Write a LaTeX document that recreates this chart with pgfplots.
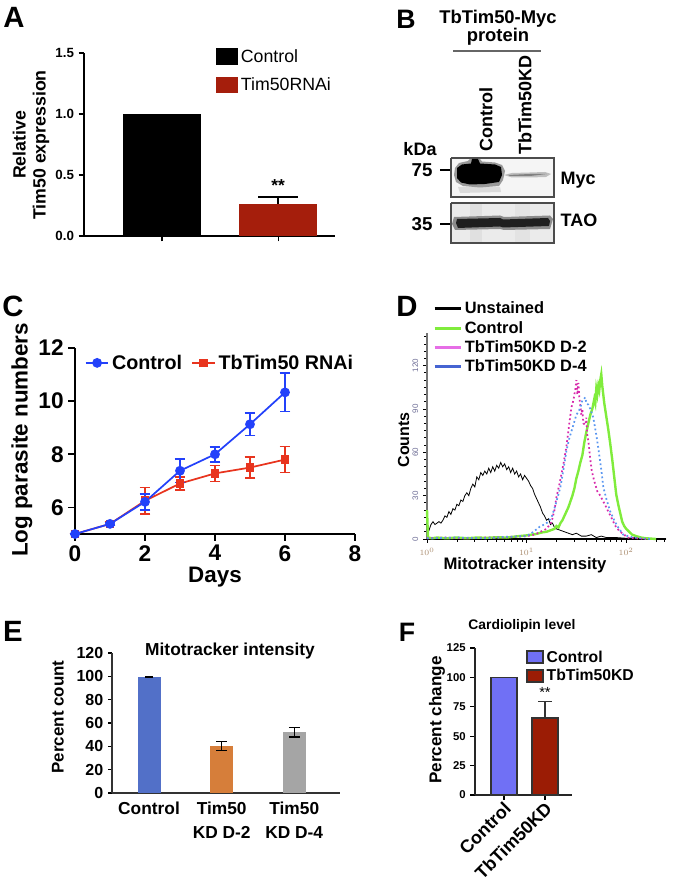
\documentclass[border=0pt]{standalone}
\usepackage{pgfplots}
\pgfplotsset{compat=1.18}
\usepackage{fontspec}
\setmainfont{Liberation Sans}
\newcommand\fs[2]{\fontsize{#1}{#2}\selectfont}
\definecolor{aRed}{RGB}{165,30,12}
\definecolor{cBlue}{RGB}{35,65,250}
\definecolor{cRed}{RGB}{232,52,30}
\definecolor{dGreen}{RGB}{128,236,60}
\definecolor{dMag}{RGB}{215,40,170}
\definecolor{dMagL}{RGB}{230,110,230}
\definecolor{dBlue}{RGB}{90,150,240}
\definecolor{dBlueL}{RGB}{70,100,210}
\definecolor{eBlue}{RGB}{82,112,200}
\definecolor{eOrange}{RGB}{214,126,58}
\definecolor{eGray}{RGB}{165,165,165}
\definecolor{fBlue}{RGB}{112,112,245}
\definecolor{fRed}{RGB}{155,28,5}
\definecolor{tickgray}{RGB}{110,110,150}
\definecolor{tickorange}{RGB}{170,140,110}
\pgfplotsset{
  base/.style={scale only axis, axis lines=left, axis line style={-, line width=0.9pt},
    tick style={black, line width=0.9pt}, tick align=outside, major tick length=4pt,
    /pgf/number format/assume math mode=true, clip=false},
}
\begin{document}
\begin{tikzpicture}[x=0.75pt,y=0.75pt]
\path[use as bounding box] (0,0) rectangle (675,884);

% ---------------- Panel A ----------------
\node[font=\bfseries\fs{22}{22}] at (14,{884-17.5}) {A};
\begin{axis}[base, at={(63pt,486pt)}, anchor=south west, width=188.25pt, height=137.25pt,
  xmin=-0.672, xmax=1.49, ymin=0, ymax=1.5,
  ytick={0,0.5,1,1.5},
  yticklabel style={/pgf/number format/fixed, /pgf/number format/fixed zerofill, /pgf/number format/precision=1, font=\bfseries\fs{10}{12}},
  xtick={0,1}, xticklabels={,},
  legend style={at={(0.51,1.049)}, anchor=north west, draw=none, fill=none, font=\fs{13.3}{16}, row sep=6pt, legend cell align=left},
  legend image code/.code={\fill[#1] (0pt,-6pt) rectangle (16.5pt,6.5pt);},
]
\addplot[ybar, bar width=0.672, bar shift=0pt, fill=black, draw=none] coordinates {(0,1)};
\addlegendentry{Control}
\addplot[ybar, bar width=0.672, bar shift=0pt, fill=aRed, draw=none,
  error bars/.cd, y dir=plus, y explicit, error bar style={black, line width=1pt},
  error mark options={rotate=90, black, mark size=15pt, line width=1pt}] coordinates {(1,0.262) +- (0,0.058)};
\addlegendentry{Tim50RNAi}
\node[font=\bfseries\fs{13}{13}] at (axis cs:1,0.415) {**};
\end{axis}
\node[rotate=90, font=\bfseries\fs{13.3}{15}, align=center] at (31,{884-145}) {Relative\\Tim50 expression};

% ---------------- Panel B ----------------
\node[font=\bfseries\fs{20}{20}] at (406,{884-19}) {B};
\node[font=\bfseries\fs{13.8}{12.5}, align=center] at (498,{884-28}) {TbTim50-Myc\\protein};
\draw[line width=0.8pt, black!60] (453,{884-51}) -- (541,{884-51});
\node[rotate=90, anchor=west, inner sep=0pt, font=\bfseries\fs{13.5}{14}] at (486,{884-152}) {Control};
\node[rotate=90, anchor=west, inner sep=0pt, font=\bfseries\fs{13.5}{14}] at (525,{884-155}) {TbTim50KD};
\node[font=\bfseries\fs{13.5}{14}] at (420,{884-149}) {kDa};
\node[font=\bfseries\fs{14}{14}] at (422,{884-170}) {75};
\node[font=\bfseries\fs{14}{14}] at (422,{884-224}) {35};
\draw[line width=1pt] (440,{884-170}) -- (451,{884-170});
\draw[line width=1pt] (440,{884-224}) -- (451,{884-224});
\node[anchor=west, font=\bfseries\fs{13.5}{14}] at (556,{884-180}) {Myc};
\node[anchor=west, font=\bfseries\fs{13.5}{14}] at (556,{884-220}) {TAO};
\begin{axis}[scale only axis, at={(338.25pt,480.75pt)}, anchor=south west, width=77.25pt, height=63.75pt,
  xmin=451, xmax=554, ymin=158, ymax=243, y dir=reverse, hide axis, clip=false]
\addplot[fill=black!4, draw=black!70, line width=0.8pt] coordinates {(451,158) (554,158) (554,197) (451,197) (451,158)};
\addplot[fill=black!8, draw=black!70, line width=0.8pt] coordinates {(451,203) (554,203) (554,243) (451,243) (451,203)};
\addplot[fill=black!14, draw=none] coordinates {(458,187) (500,187) (501,192) (460,193)};
\addplot[fill=black!40, draw=none] coordinates {(455,168) (459,163) (468,161) (470,159) (480,159) (482,161.5) (495,162.5) (502,165) (505,171) (503,180) (499,186) (480,187.5) (463,186) (456,182) (454,175)};
\addplot[fill=black, draw=none] coordinates {(457,168) (462,164.5) (471,163.5) (472,159) (478,159) (480,163.5) (495,164.5) (501,167) (502,175) (499,182) (485,184) (470,184.5) (461,182.5) (457,178)};
\addplot[fill=black!25, draw=none] coordinates {(504,175) (512,173) (530,172.5) (545,172) (551,174) (546,177) (530,177.5) (512,177.5)};
\addplot[fill=black!50, draw=none] coordinates {(508,175) (530,174) (547,174) (530,176) (510,176)};
\addplot[fill=black!12, draw=none] coordinates {(470,204) (482,204) (482,242) (470,242)};
\addplot[fill=black!11, draw=none] coordinates {(515,204) (530,204) (530,242) (515,242)};
\addplot[fill=black!45, draw=none] coordinates {(454,217) (500,215.5) (504,217) (550,215.5) (553,219) (550,229) (504,230) (500,229) (455,230) (452,224)};
\addplot[fill=black!88, draw=none] coordinates {(457,219) (500,218) (503,219.5) (548,218) (550,221) (549,226) (503,227.5) (500,226.5) (458,228) (456,223)};
\end{axis}

% ---------------- Panel C ----------------
\node[font=\bfseries\fs{22}{22}] at (13,{884-306}) {C};
\begin{axis}[base, at={(56.25pt,262.5pt)}, anchor=south west, width=210pt, height=139.5pt,
  xmin=0, xmax=8, ymin=5, ymax=12, xtick={0,2,4,6,8}, ytick={6,8,10,12},
  ticklabel style={font=\bfseries\fs{17}{17}},
  axis line style={line width=1.2pt}, tick style={line width=1.2pt}, major tick length=5pt,
  legend style={at={(0.02,0.92)}, anchor=west, draw=none, fill=none, font=\bfseries\fs{14.8}{16},
    legend columns=2, /tikz/every even column/.append style={column sep=5pt}},
]
\addlegendimage{cBlue, line width=1.3pt, mark=*, mark size=3pt}
\addlegendentry{Control}
\addlegendimage{cRed, line width=1.3pt, mark=square*, mark size=2.6pt}
\addlegendentry{TbTim50 RNAi}
\addplot[forget plot, cRed, line width=1.3pt, mark=square*, mark size=2.6pt,
  error bars/.cd, y dir=both, y explicit, error bar style={line width=1.3pt},
  error mark options={rotate=90, line width=1.3pt, mark size=4pt}]
  coordinates {(0,5.0) +- (0,0) (1,5.38) +- (0,0.06) (2,6.25) +- (0,0.5) (3,6.9) +- (0,0.25)
               (4,7.28) +- (0,0.3) (5,7.5) +- (0,0.4) (6,7.8) +- (0,0.49)};
\addplot[forget plot, cBlue, line width=1.3pt, mark=*, mark size=3pt,
  error bars/.cd, y dir=both, y explicit, error bar style={line width=1.3pt},
  error mark options={rotate=90, line width=1.3pt, mark size=4pt}]
  coordinates {(0,5.0) +- (0,0) (1,5.38) +- (0,0.05) (2,6.21) +- (0,0.3) (3,7.38) +- (0,0.44)
               (4,8.0) +- (0,0.28) (5,9.13) +- (0,0.42) (6,10.33) +- (0,0.72)};
\end{axis}
\node[rotate=90, font=\bfseries\fs{16.8}{17}] at (22,{884-440}) {Log parasite numbers};
\node[anchor=base, font=\bfseries\fs{16.8}{17}] at (215,{884-583}) {Days};

% ---------------- Panel D ----------------
\node[font=\bfseries\fs{22}{22}] at (407,{884-306}) {D};
\begin{axis}[scale only axis, at={(320.25pt,258.75pt)}, anchor=south west, width=179.25pt, height=154.5pt,
  xmin=0, xmax=2.4, ymin=0, ymax=142.6, axis lines=left, clip=false,
  axis line style={-}, x axis line style={black, line width=1pt}, y axis line style={black!55, line width=1pt},
  xtick={0,1,2}, xticklabels={$10^0$,$10^1$,$10^2$},
  minor xtick={0.301,0.477,0.602,0.699,0.778,0.845,0.903,0.954,1.301,1.477,1.602,1.699,1.778,1.845,1.903,1.954,2.301,2.38},
  ytick={0,30,60,90,120}, minor ytick={5,10,...,140},
  yticklabel style={rotate=90, font=\fs{6}{6}, text=tickgray},
  xticklabel style={font=\fs{6.5}{6.5}, text=tickorange},
  tick align=outside, major tick length=3pt, minor tick length=2pt, tick style={black, line width=0.6pt},
  /pgf/number format/assume math mode=true,
  legend style={at={(0.025,1.165)}, anchor=north west, draw=none, fill=none, font=\bfseries\fs{12.3}{15},
    row sep=0pt, inner sep=0pt, legend cell align=left, nodes={inner sep=2pt}},
  legend image code/.code={\draw[#1, solid, line width=2.2pt] (0pt,0pt) -- (19.5pt,0pt);},
]
\addplot[black, line width=0.6pt] coordinates {
(0.00,9) (0.02,6) (0.04,10) (0.06,12) (0.08,10) (0.10,11) (0.12,12) (0.14,11) (0.16,13) (0.18,16)
(0.20,15) (0.22,19) (0.24,17) (0.26,21) (0.28,20) (0.30,24) (0.32,23) (0.34,27) (0.36,26) (0.38,30)
(0.40,32) (0.42,30) (0.44,35) (0.46,38) (0.48,36) (0.50,43) (0.52,41) (0.54,46) (0.56,44) (0.58,47)
(0.60,45) (0.62,49) (0.64,46) (0.66,50) (0.68,47) (0.70,51) (0.72,49) (0.74,53) (0.76,50) (0.78,52)
(0.80,48) (0.82,50) (0.84,46) (0.86,49) (0.88,45) (0.90,47) (0.92,43) (0.94,45) (0.96,41) (0.98,44)
(1.00,42) (1.02,40) (1.04,37) (1.06,35) (1.08,31) (1.10,28) (1.12,25) (1.14,22) (1.16,18) (1.18,16)
(1.20,13) (1.22,14) (1.24,10) (1.26,11) (1.28,8) (1.30,7) (1.34,6) (1.38,5) (1.42,4) (1.46,3)
(1.50,4) (1.55,2) (1.60,2) (1.65,3) (1.70,1) (1.75,2) (1.80,1) (1.90,1) (2.00,0.5) (2.10,1) (2.20,0.5) (2.30,0) (2.40,0)};
\addlegendentry{Unstained}
\addplot[dGreen, line width=1.8pt] coordinates {
(0.00,20) (0.01,1) (0.05,0.5) (0.10,1) (0.20,0.5) (0.30,1) (0.40,0.5) (0.50,1) (0.60,0.8) (0.70,1.2)
(0.80,1) (0.90,1.8) (1.00,2.5) (1.05,3) (1.10,3.5) (1.15,4.5) (1.20,5) (1.24,6) (1.28,7) (1.30,9)
(1.32,8) (1.34,11) (1.36,13) (1.38,16) (1.40,19) (1.42,22) (1.44,26) (1.46,30) (1.48,35) (1.50,42)
(1.52,47) (1.54,53) (1.56,58) (1.58,67) (1.60,74) (1.62,80) (1.64,86) (1.66,90) (1.68,97) (1.69,94)
(1.70,104) (1.71,100) (1.72,106) (1.73,103) (1.74,110) (1.75,114) (1.76,106) (1.77,100) (1.78,94)
(1.80,85) (1.82,76) (1.84,66) (1.86,55) (1.88,43) (1.90,31) (1.92,24) (1.94,18) (1.96,12) (1.98,9)
(2.00,7) (2.03,5) (2.06,3) (2.10,2) (2.15,1) (2.20,0.5) (2.30,0)};
\addlegendentry{Control}
\addplot[dMag, dotted, line width=1.3pt, legend image post style={dMagL}] coordinates {
(0.00,0.5) (0.20,1) (0.40,0.5) (0.60,1) (0.73,1) (0.85,1.5) (1.00,2) (1.08,3) (1.14,5) (1.20,7)
(1.25,11.6) (1.28,20) (1.30,29) (1.33,38) (1.37,52) (1.40,64) (1.42,75) (1.44,86) (1.45,91) (1.47,96)
(1.49,104) (1.50,110) (1.51,100) (1.52,108) (1.53,98) (1.54,92) (1.55,86) (1.56,90) (1.57,80) (1.59,79)
(1.60,84) (1.61,72) (1.62,68) (1.64,55) (1.655,47) (1.68,40) (1.71,33) (1.74,30) (1.77,26) (1.80,22)
(1.82,19) (1.85,15) (1.87,12) (1.90,8) (1.94,5) (1.98,3) (2.01,1) (2.10,0.5) (2.20,0)};
\addlegendentry{TbTim50KD D-2}
\addplot[dBlue, dotted, line width=1.3pt, legend image post style={dBlueL}] coordinates {
(0.00,0.5) (0.30,1) (0.60,0.5) (0.80,1.5) (1.00,2) (1.07,5) (1.14,9) (1.18,10) (1.22,12) (1.25,15)
(1.27,19) (1.30,26) (1.34,36) (1.37,48) (1.40,61) (1.43,70) (1.47,79) (1.50,86) (1.52,88) (1.54,91)
(1.56,96) (1.59,98) (1.60,94) (1.62,93) (1.64,90) (1.67,84) (1.70,72) (1.72,63) (1.75,48) (1.77,36)
(1.80,28) (1.84,19) (1.88,13) (1.91,9) (1.95,5) (1.97,3) (2.02,2) (2.07,1) (2.15,0.5) (2.25,0)};
\addlegendentry{TbTim50KD D-4}
\end{axis}
\node[rotate=90, font=\bfseries\fs{12}{12}] at (403.5,{884-440}) {Counts};
\node[anchor=base, font=\bfseries\fs{12.5}{13}] at (525,{884-570}) {Mitotracker intensity};

% ---------------- Panel E ----------------
\node[font=\bfseries\fs{22}{22}] at (13,{884-631}) {E};
\begin{axis}[base, at={(84pt,68.25pt)}, anchor=south west, width=171pt, height=105pt,
  xmin=-0.51, xmax=2.63, ymin=0, ymax=120, ytick={0,20,...,120},
  xtick={0,1,2}, xticklabels={Control,{Tim50\\KD D-2},{Tim50\\KD D-4}},
  x tick label style={align=center, font=\bfseries\fs{13}{18}},
  major x tick style={draw=none},
  yticklabel style={font=\bfseries\fs{12}{12}},
  axis line style={line width=0.9pt, black!80}, major tick length=3pt,
]
\addplot[ybar, bar width=0.316, bar shift=0pt, fill=eBlue, draw=none,
  error bars/.cd, y dir=both, y explicit, error bar style={black, line width=0.8pt},
  error mark options={rotate=90, black, mark size=3pt, line width=0.8pt}] coordinates {(0,99.6) +- (0,0.4)};
\addplot[ybar, bar width=0.316, bar shift=0pt, fill=eOrange, draw=none,
  error bars/.cd, y dir=both, y explicit, error bar style={black, line width=0.8pt},
  error mark options={rotate=90, black, mark size=4pt, line width=0.8pt}] coordinates {(1,40.3) +- (0,4)};
\addplot[ybar, bar width=0.316, bar shift=0pt, fill=eGray, draw=none,
  error bars/.cd, y dir=both, y explicit, error bar style={black, line width=0.8pt},
  error mark options={rotate=90, black, mark size=4pt, line width=0.8pt}] coordinates {(2,52) +- (0,4)};
\end{axis}
\node[font=\bfseries\fs{13}{13}] at (230,{884-651}) {Mitotracker intensity};
\node[rotate=90, font=\bfseries\fs{12.7}{13}] at (58,{884-717}) {Percent count};

% ---------------- Panel F ----------------
\node[font=\bfseries\fs{20}{20}] at (407,{884-632}) {F};
\begin{axis}[base, at={(356.25pt,66.75pt)}, anchor=south west, width=72.75pt, height=110.25pt,
  xmin=-0.707, xmax=1.66, ymin=0, ymax=125, ytick={0,25,...,125},
  xtick={0,1}, xticklabels={Control,TbTim50KD},
  x tick label style={rotate=45, anchor=east, font=\bfseries\fs{13.5}{14}, inner sep=1pt, yshift=-5pt},
  yticklabel style={font=\bfseries\fs{8.5}{9}},
  axis line style={line width=1pt, black!85}, major tick length=3.5pt,
  legend style={at={(0.485,1.02)}, anchor=north west, draw=none, fill=none, font=\bfseries\fs{11.8}{14.6},
    row sep=0pt, legend cell align=left},
  legend image code/.code={\draw[#1] (0pt,-4.5pt) rectangle (12pt,4.5pt);},
]
\addplot[ybar, bar width=0.634, bar shift=0pt, fill=fBlue, draw=black!80, line width=1.3pt] coordinates {(0,100)};
\addlegendentry{Control}
\addplot[ybar, bar width=0.634, bar shift=0pt, fill=fRed, draw=black!80, line width=1.3pt,
  error bars/.cd, y dir=plus, y explicit, error bar style={black!80, line width=1pt},
  error mark options={rotate=90, black!80, mark size=5pt, line width=1pt}] coordinates {(1,65.7) +- (0,13.6)};
\addlegendentry{TbTim50KD}
\node[font=\fs{11}{11}] at (axis cs:1,87) {**};
\end{axis}
\node[font=\bfseries\fs{10.4}{11}] at (522,{884-626}) {Cardiolipin level};
\node[rotate=90, font=\bfseries\fs{12.8}{13}] at (437,{884-720}) {Percent change};
\end{tikzpicture}
\end{document}
